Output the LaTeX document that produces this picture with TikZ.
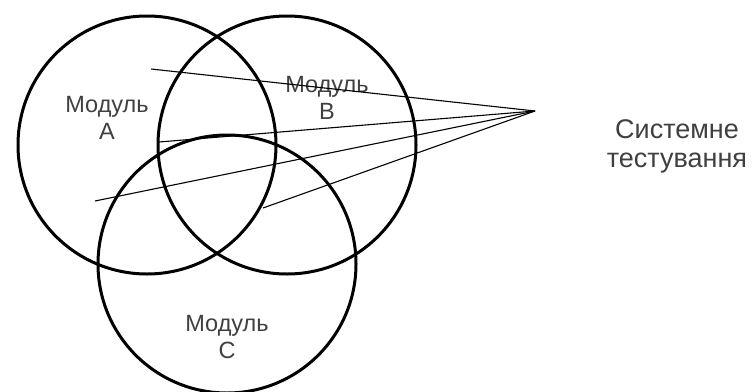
\documentclass[tikz,border=0pt]{standalone}
\usepackage{fontspec}
\setmainfont{Liberation Sans}
\tikzset{
  modul/.style={circle, draw, line width=3pt, minimum size=258pt, inner sep=0pt},
  label/.style={align=center, text=black!75, font=\fontsize{23.5}{27}\selectfont}
}
\begin{document}
\begin{tikzpicture}[x=1pt,y=-1pt]
\useasboundingbox (0,0) rectangle (752,391);
\node[modul] (A) at (147,145) {};
\node[modul] (B) at (287,145) {};
\node[modul] (C) at (227,264) {};
\node[label] (la) at (107,118) {Модуль\\A};
\node[label] (lb) at (327,98) {Модуль\\B};
\node[label] (lc) at (227,337) {Модуль\\C};
\node[label, font=\fontsize{27}{29}\selectfont] (sys) at (677,146) {Системне\\тестування};

\coordinate (apex) at (535,111);
\coordinate (pa) at (151,69);
\coordinate (pb) at (159,142);
\coordinate (pc) at (95,201);
\coordinate (pd) at (263,208);
\draw[line width=1.1pt] (pa)--(apex);
\draw[line width=1.1pt] (pb)--(apex);
\draw[line width=1.1pt] (pc)--(apex);
\draw[line width=1.1pt] (pd)--(apex);
\end{tikzpicture}
\end{document}
